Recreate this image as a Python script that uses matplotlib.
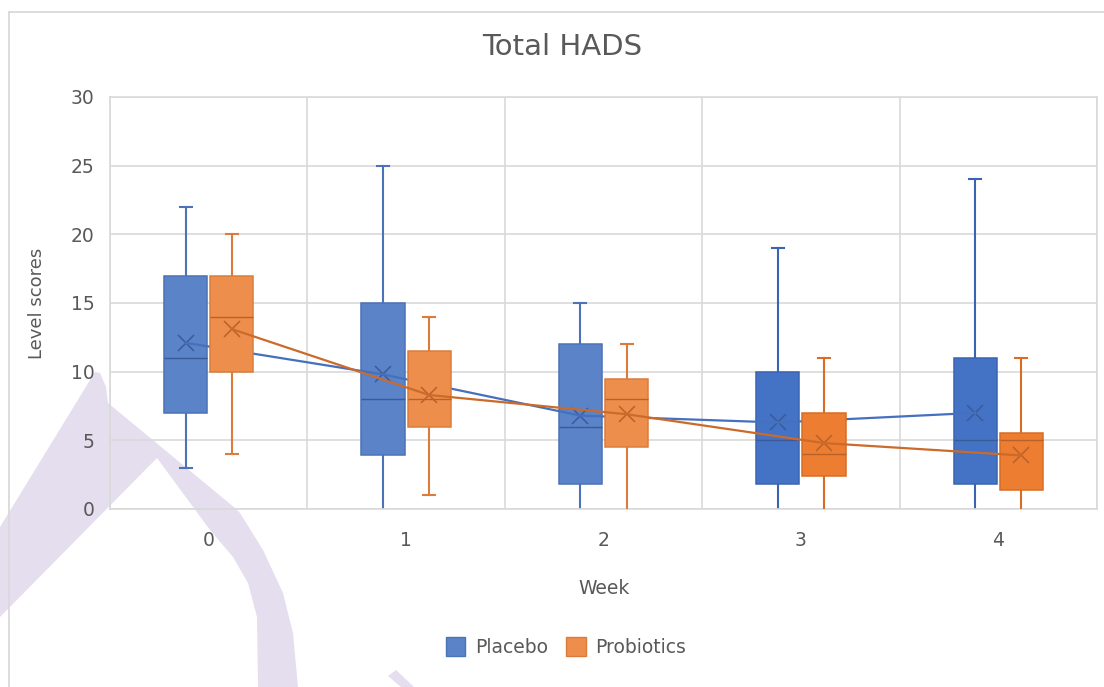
"""Total HADS box plots by week, placebo vs probiotics (Excel-style box & whisker)."""
import matplotlib
matplotlib.use("Agg")
import matplotlib.pyplot as plt
from matplotlib.lines import Line2D
from matplotlib.patches import Patch, Polygon
import numpy as np

W, H = 1104, 687

WEEKS = ["0", "1", "2", "3", "4"]
SERIES = ["Placebo", "Probiotics"]

# five-number summaries + mean per week
PLACEBO_MIN = [3, 0, 0, 0, 0]
PLACEBO_Q1 = [7, 3.9, 1.8, 1.8, 1.8]
PLACEBO_MED = [11, 8, 6, 5, 5]
PLACEBO_Q3 = [17, 15, 12, 10, 11]
PLACEBO_MAX = [22, 25, 15, 19, 24]
PLACEBO_MEAN = [12.1, 9.8, 6.8, 6.3, 7.0]

PROBIOTICS_MIN = [4, 1, 0, 0, 0]
PROBIOTICS_Q1 = [10, 6, 4.5, 2.4, 1.4]
PROBIOTICS_MED = [14, 8, 8, 4, 5]
PROBIOTICS_Q3 = [17, 11.5, 9.5, 7, 5.5]
PROBIOTICS_MAX = [20, 14, 12, 11, 11]
PROBIOTICS_MEAN = [13.1, 8.3, 6.9, 4.8, 3.9]

# styling (the left half of the original is washed out by a watermark)
PLACEBO_FACE = ["#5b83c8"] * 3 + ["#4472c4"] * 2
PLACEBO_EDGE = ["#4c72b8"] * 3 + ["#3a64b2"] * 2
PLACEBO_DARK = "#3a5a9a"
PLACEBO_LINE = "#4470bd"
PROB_FACE = ["#ee8e4c"] * 3 + ["#ed7d31"] * 2
PROB_EDGE = ["#dc7c3c"] * 3 + ["#d96d24"] * 2
PROB_DARK = "#b8622a"
PROB_LINE = "#cc6a2a"
TEXT = "#595959"
GRID = "#d9d9d9"
FS = 13.5

OFFSET, BOX_W, CAP_W = 0.117, 0.218, 0.06


def _stats(lo, q1, med, q3, hi, mean):
    return [dict(whislo=a, q1=b, med=c, q3=d, whishi=e, mean=f, fliers=[])
            for a, b, c, d, e, f in zip(lo, q1, med, q3, hi, mean)]


def _draw_series(ax, stats, positions, faces, edges, dark, line_color, z):
    art = ax.bxp(stats, positions=positions, widths=BOX_W, capwidths=CAP_W,
                 patch_artist=True, showmeans=True, manage_ticks=False,
                 meanprops=dict(marker="x", markersize=11.5, markeredgewidth=1.1,
                                markeredgecolor=dark, linestyle="none"))
    for i, st in enumerate(stats):
        box = art["boxes"][i]
        box.set_facecolor(faces[i])
        box.set_edgecolor(edges[i])
        box.set_linewidth(1.1)
        box.set_zorder(z)
        med = art["medians"][i]
        med.set_color(dark)
        med.set_linewidth(1.0)
        med.set_zorder(z + 0.1)
        for k in (2 * i, 2 * i + 1):
            art["whiskers"][k].set_color(edges[i])
            art["whiskers"][k].set_linewidth(1.5)
            art["whiskers"][k].set_zorder(z - 0.1)
            art["caps"][k].set_color(edges[i])
            art["caps"][k].set_linewidth(1.5)
            art["caps"][k].set_zorder(z - 0.1)
        if st["whislo"] == 0:
            art["caps"][2 * i].set_visible(False)
        art["means"][i].set_zorder(z + 0.2)
    means = [s["mean"] for s in stats]
    ax.plot(positions, means, color=line_color, linewidth=1.6, zorder=z + 0.3)


def main() -> None:
    fig = plt.figure(figsize=(W / 100, H / 100), dpi=100)
    fig.patch.set_facecolor("white")

    # lavender watermark behind the plot (decoration only)
    def px(pts):
        return [(x / W, 1 - y / H) for x, y in pts]
    mark = [(0, 527), (95, 372), (100, 373), (106, 387), (108, 403),
            (235, 508), (240, 513), (263, 550), (283, 593), (293, 633),
            (298, 687), (258, 687), (257, 617), (248, 583), (233, 557),
            (210, 530), (157, 458), (0, 617)]
    fig.add_artist(Polygon(px(mark), closed=True, transform=fig.transFigure,
                           facecolor="#e4deee", edgecolor="none", zorder=-1))
    fig.add_artist(Polygon(px([(388, 676), (396, 670), (414, 687), (401, 687)]),
                           closed=True, transform=fig.transFigure,
                           facecolor="#e4deee", edgecolor="none", zorder=-1))

    # chart border (top and left visible in the crop)
    fig.add_artist(Line2D([9 / W, 1], [1 - 12 / H] * 2, transform=fig.transFigure,
                          color=GRID, linewidth=1.3))
    fig.add_artist(Line2D([9 / W] * 2, [0, 1 - 12 / H], transform=fig.transFigure,
                          color=GRID, linewidth=1.3))

    ax = fig.add_axes([110 / W, 1 - 509 / H, (1097 - 110) / W, (509 - 97) / H])
    ax.set_facecolor("none")

    x = np.arange(len(WEEKS))
    _draw_series(ax, _stats(PLACEBO_MIN, PLACEBO_Q1, PLACEBO_MED, PLACEBO_Q3,
                            PLACEBO_MAX, PLACEBO_MEAN),
                 x - OFFSET, PLACEBO_FACE, PLACEBO_EDGE, PLACEBO_DARK, PLACEBO_LINE, 2)
    _draw_series(ax, _stats(PROBIOTICS_MIN, PROBIOTICS_Q1, PROBIOTICS_MED, PROBIOTICS_Q3,
                            PROBIOTICS_MAX, PROBIOTICS_MEAN),
                 x + OFFSET, PROB_FACE, PROB_EDGE, PROB_DARK, PROB_LINE, 3)

    ax.set_xlim(-0.5, len(WEEKS) - 0.5)
    ax.set_ylim(0, 30)
    ax.set_yticks(range(0, 31, 5))
    ax.set_xticks(x)
    ax.set_xticklabels(WEEKS)
    ax.set_xticks(np.arange(-0.5, len(WEEKS)), minor=True)
    ax.grid(True, axis="y", which="major", color=GRID, linewidth=1.2, zorder=0)
    ax.grid(True, axis="x", which="minor", color=GRID, linewidth=1.2, zorder=0)
    ax.set_axisbelow(True)
    ax.tick_params(axis="both", which="both", length=0, labelcolor=TEXT, labelsize=FS)
    ax.tick_params(axis="y", pad=11)
    ax.tick_params(axis="x", pad=16)
    for sp in ax.spines.values():
        sp.set_color(GRID)
        sp.set_linewidth(1.2)

    fig.text(562 / W, 1 - 47 / H, "Total HADS", ha="center", va="center",
             fontsize=21, color=TEXT)
    fig.text(37 / W, 1 - 303 / H, "Level scores", rotation=90, ha="center",
             va="center", fontsize=13, color=TEXT)
    fig.text(604 / W, 1 - 588 / H, "Week", ha="center", va="center",
             fontsize=FS, color=TEXT)

    handles = [Patch(facecolor=PLACEBO_FACE[0], edgecolor=PLACEBO_EDGE[0]),
               Patch(facecolor=PROB_FACE[0], edgecolor=PROB_EDGE[0])]
    fig.legend(handles, SERIES, loc="center", bbox_to_anchor=(566 / W, 1 - 647 / H),
               ncol=2, frameon=False, fontsize=FS, labelcolor=TEXT,
               handlelength=1.05, handleheight=1.15, handletextpad=0.5,
               columnspacing=1.0)

    fig.savefig("out.png", dpi=100, facecolor="white")


if __name__ == "__main__":
    main()
